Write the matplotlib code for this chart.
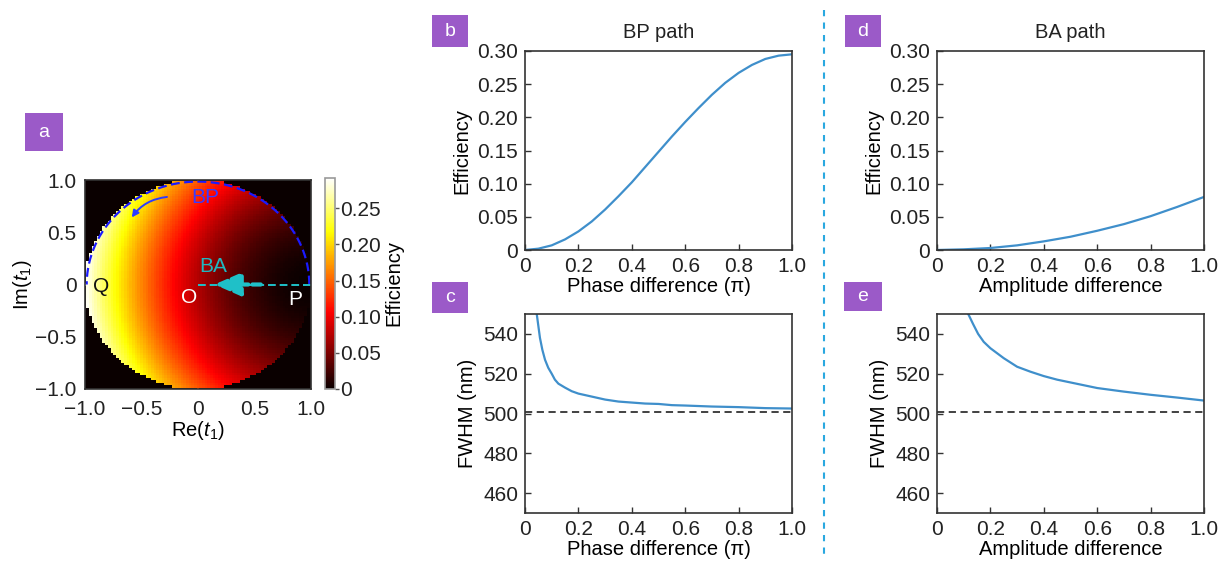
import numpy as np
import matplotlib
matplotlib.use("Agg")
import matplotlib.pyplot as plt
from matplotlib.patches import Rectangle
from matplotlib.lines import Line2D

plt.rcParams['font.family'] = ['Liberation Sans', 'DejaVu Sans']
plt.rcParams['mathtext.fontset'] = 'custom'
plt.rcParams['mathtext.rm'] = 'Liberation Sans'
plt.rcParams['mathtext.it'] = 'Liberation Sans:italic'
plt.rcParams['font.size'] = 14
plt.rcParams['axes.edgecolor'] = '#333333'
plt.rcParams['text.color'] = '#222222'

# --- data ---
# panel b: efficiency along BP path
phase_b = [0, 0.05, 0.1, 0.15, 0.2, 0.25, 0.3, 0.35, 0.4, 0.45, 0.5, 0.55,
           0.6, 0.65, 0.7, 0.75, 0.8, 0.85, 0.9, 0.95, 1.0]
eff_b = [0, 0.002, 0.007, 0.016, 0.028, 0.043, 0.061, 0.081, 0.102, 0.125,
         0.148, 0.171, 0.193, 0.214, 0.234, 0.252, 0.267, 0.279, 0.288,
         0.293, 0.295]
# panel d: efficiency along BA path
amp_d = [0, 0.1, 0.2, 0.3, 0.4, 0.5, 0.6, 0.7, 0.8, 0.9, 1.0]
eff_d = [0, 0.001, 0.003, 0.007, 0.013, 0.020, 0.029, 0.039, 0.051, 0.065, 0.080]
# panel c: FWHM along BP path
phase_c = [0.044, 0.05, 0.056, 0.065, 0.075, 0.087, 0.1, 0.112, 0.125, 0.15,
           0.175, 0.2, 0.25, 0.3, 0.35, 0.4, 0.45, 0.5, 0.55, 0.6, 0.7, 0.8,
           0.9, 1.0]
fwhm_c = [550, 544, 538, 532, 527, 523, 520, 517, 515, 513, 511.2, 510,
          508.5, 507, 506, 505.5, 505, 504.8, 504.2, 504, 503.5, 503.2,
          502.7, 502.5]
# panel e: FWHM along BA path
amp_e = [0.117, 0.135, 0.154, 0.175, 0.2, 0.25, 0.3, 0.35, 0.4, 0.45, 0.5,
         0.6, 0.7, 0.8, 0.9, 1.0]
fwhm_e = [550, 545, 540, 536, 532.8, 527.8, 523.5, 521, 518.8, 517, 515.6,
          512.8, 511, 509.4, 508, 506.5]
fwhm_ref = 501
# panel a: efficiency at Q (t1 = -1), map goes to 0 at P (t1 = 1)
eff_q = 0.292
n_grid = 85

eff_ticks = [0, 0.05, 0.10, 0.15, 0.20, 0.25, 0.30]
eff_labels = ['0', '0.05', '0.10', '0.15', '0.20', '0.25', '0.30']
x_ticks = [0, 0.2, 0.4, 0.6, 0.8, 1.0]
x_labels = ['0', '0.2', '0.4', '0.6', '0.8', '1.0']
fwhm_ticks = [460, 480, 500, 520, 540]
a_ticks = [-1.0, -0.5, 0, 0.5, 1.0]
a_labels = ['\u22121.0', '\u22120.5', '0', '0.5', '1.0']
cb_ticks = [0, 0.05, 0.10, 0.15, 0.20, 0.25]
cb_labels = ['0', '0.05', '0.10', '0.15', '0.20', '0.25']

W, H = 1228, 565
fig = plt.figure(figsize=(W / 100, H / 100), dpi=100)


def box(x0, y0, x1, y1):
    return [x0 / W, 1 - y1 / H, (x1 - x0) / W, (y1 - y0) / H]


line_col = '#3f8fcb'
purple = '#9b5ac8'
tick_fs = 15
lab_fs = 14.5


def style(ax):
    ax.tick_params(direction='in', length=4, width=1, colors='#333333',
                   labelsize=tick_fs, labelcolor='#222222', pad=5)
    for s in ax.spines.values():
        s.set_linewidth(1.2)


# panel a
ax_a = fig.add_axes(box(85, 180, 311, 389))
re = np.linspace(-1, 1, n_grid)
im = np.linspace(-1, 1, n_grid)
RE, IM = np.meshgrid(re, im)
t1 = RE + 1j * IM
emap = eff_q * np.abs(1 - t1) ** 2 / 4
emap[np.abs(t1) > 1.0] = 0
hw = 1 / (n_grid - 1)
mesh = ax_a.imshow(emap, extent=[-1 - hw, 1 + hw, -1 - hw, 1 + hw],
                   origin='lower', cmap='hot', vmin=0, vmax=0.292,
                   interpolation='nearest', aspect='auto')
ax_a.set_xlim(-1, 1)
ax_a.set_ylim(-1, 1)
ax_a.set_xticks(a_ticks)
ax_a.set_xticklabels(a_labels)
ax_a.set_yticks(a_ticks)
ax_a.set_yticklabels(a_labels)
style(ax_a)
ax_a.tick_params(length=0)
ax_a.tick_params(axis='x', pad=8)
ax_a.tick_params(axis='y', pad=6)
ax_a.set_xlabel(r'Re($\mathit{t}_{1}$)', fontsize=lab_fs, labelpad=0)
ax_a.set_ylabel(r'Im($\mathit{t}_{1}$)', fontsize=lab_fs, labelpad=1)

th = np.linspace(0, np.pi, 200)
ax_a.plot(0.985 * np.cos(th), 0.985 * np.sin(th), color='#1a1aff', lw=1.6, ls=(0, (4, 2)))
ax_a.annotate('', xy=(-0.6, 0.62), xytext=(-0.25, 0.84),
              arrowprops=dict(arrowstyle='-|>', color='#2a3cff', lw=1.4,
                              connectionstyle='arc3,rad=0.25', mutation_scale=10))
ax_a.text(0.06, 0.83, 'BP', color='#3a3aff', fontsize=15, ha='center', va='center')
ax_a.plot([0, 1], [0, 0], color='#1fc0c8', lw=1.4, ls=(0, (4, 2)))
ax_a.annotate('', xy=(0.12, 0), xytext=(0.58, 0),
              arrowprops=dict(arrowstyle='-|>,head_length=0.8,head_width=0.35',
                              color='#1fc0c8', lw=3,
                              ls=(0, (2, 1)), mutation_scale=20))
ax_a.text(0.13, 0.17, 'BA', color='#1fb8c0', fontsize=15, ha='center', va='center')
ax_a.text(-0.86, -0.02, 'Q', color='#111111', fontsize=15, ha='center', va='center')
ax_a.text(-0.08, -0.12, 'O', color='white', fontsize=15, ha='center', va='center')
ax_a.text(0.86, -0.14, 'P', color='white', fontsize=15, ha='center', va='center')

cax = fig.add_axes(box(325, 178, 335, 389))
cb = fig.colorbar(mesh, cax=cax)
cb.set_ticks(cb_ticks)
cb.set_ticklabels(cb_labels)
cb.outline.set_edgecolor('#999999')
cb.outline.set_linewidth(1.2)
cax.tick_params(length=3, width=1, colors='#555555', labelsize=tick_fs,
                labelcolor='#222222', pad=1)
cb.set_label('Efficiency', fontsize=lab_fs, labelpad=2)

# panels b, d
ax_b = fig.add_axes(box(525, 51, 792, 250))
ax_b.plot(phase_b, eff_b, color=line_col, lw=1.6)
ax_b.set_title('BP path', fontsize=lab_fs, pad=9)
ax_d = fig.add_axes(box(937, 51, 1204, 250))
ax_d.plot(amp_d, eff_d, color=line_col, lw=1.6)
ax_d.set_title('BA path', fontsize=lab_fs, pad=9)
for ax, xl in [(ax_b, 'Phase difference (\u03c0)'), (ax_d, 'Amplitude difference')]:
    ax.set_xlim(0, 1)
    ax.set_ylim(0, 0.30)
    ax.set_xticks(x_ticks)
    ax.set_xticklabels(x_labels)
    ax.set_yticks(eff_ticks)
    ax.set_yticklabels(eff_labels)
    ax.set_ylabel('Efficiency', fontsize=lab_fs, labelpad=4)
    ax.set_xlabel(xl, fontsize=lab_fs, labelpad=1)
    style(ax)

# panels c, e
ax_c = fig.add_axes(box(525, 314, 792, 513))
ax_c.plot(phase_c, fwhm_c, color=line_col, lw=1.6)
ax_e = fig.add_axes(box(937, 314, 1204, 513))
ax_e.plot(amp_e, fwhm_e, color=line_col, lw=1.6)
for ax, xl in [(ax_c, 'Phase difference (\u03c0)'), (ax_e, 'Amplitude difference')]:
    ax.axhline(fwhm_ref, color='#333333', lw=1.3, ls=(0, (4, 2.5)))
    ax.set_xlim(0, 1)
    ax.set_ylim(450, 550)
    ax.set_xticks(x_ticks)
    ax.set_xticklabels(x_labels)
    ax.set_yticks(fwhm_ticks)
    ax.set_ylabel('FWHM (nm)', fontsize=lab_fs, labelpad=4)
    ax.set_xlabel(xl, fontsize=lab_fs, labelpad=1)
    style(ax)

# panel labels
for lab, (x0, y0, x1, y1) in [('a', (25, 113, 63, 151)), ('b', (432, 15, 468, 47)),
                              ('c', (432, 282, 468, 313)), ('d', (845, 15, 881, 47)),
                              ('e', (844, 282, 882, 311))]:
    fig.add_artist(Rectangle((x0 / W, 1 - y1 / H), (x1 - x0) / W, (y1 - y0) / H,
                             transform=fig.transFigure, color=purple, lw=0))
    fig.text((x0 + x1) / 2 / W, 1 - (y0 + y1) / 2 / H, lab, color='white',
             fontsize=14, ha='center', va='center')

# separator
fig.add_artist(Line2D([824 / W, 824 / W], [1 - 10 / H, 1 - 555 / H], transform=fig.transFigure,
                      color='#2aa8e0', lw=1.5, ls=(0, (3, 3))))

fig.savefig('out.png', dpi=100)
